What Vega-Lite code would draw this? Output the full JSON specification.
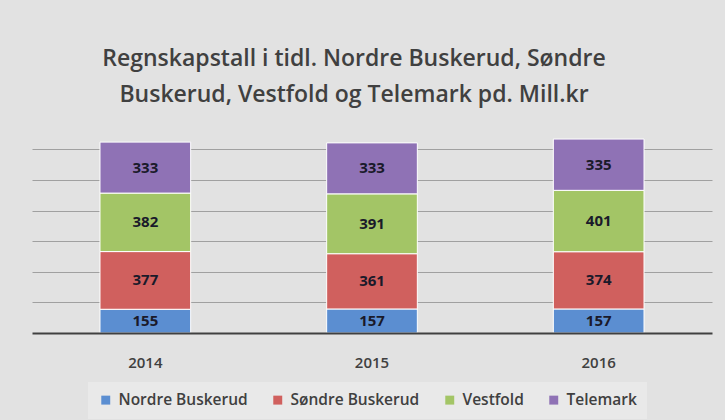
{
  "$schema": "https://vega.github.io/schema/vega-lite/v6.json",
  "width": 680,
  "height": 199,
  "autosize": {"type": "none"},
  "padding": {"left": 32, "top": 134, "right": 13, "bottom": 87},
  "background": "#e2e2e2",
  "config": {
    "view": {"stroke": null},
    "font": "Open Sans"
  },
  "title": {
    "text": ["Regnskapstall i tidl. Nordre Buskerud, Søndre", "Buskerud, Vestfold og Telemark pd. Mill.kr"],
    "fontSize": 23,
    "fontWeight": 600,
    "color": "#404040",
    "font": "Open Sans",
    "anchor": "middle",
    "dx": -18,
    "lineHeight": 36,
    "offset": 27
  },
  "data": {
    "values": [
      {"year": "2014", "series": "Nordre Buskerud", "order": 1, "value": 155},
      {"year": "2014", "series": "Søndre Buskerud", "order": 2, "value": 377},
      {"year": "2014", "series": "Vestfold", "order": 3, "value": 382},
      {"year": "2014", "series": "Telemark", "order": 4, "value": 333},
      {"year": "2015", "series": "Nordre Buskerud", "order": 1, "value": 157},
      {"year": "2015", "series": "Søndre Buskerud", "order": 2, "value": 361},
      {"year": "2015", "series": "Vestfold", "order": 3, "value": 391},
      {"year": "2015", "series": "Telemark", "order": 4, "value": 333},
      {"year": "2016", "series": "Nordre Buskerud", "order": 1, "value": 157},
      {"year": "2016", "series": "Søndre Buskerud", "order": 2, "value": 374},
      {"year": "2016", "series": "Vestfold", "order": 3, "value": 401},
      {"year": "2016", "series": "Telemark", "order": 4, "value": 335}
    ]
  },
  "encoding": {
    "x": {
      "field": "year",
      "type": "nominal",
      "scale": {"paddingInner": 0.6, "paddingOuter": 0.3},
      "axis": {
        "title": null,
        "labelAngle": 0,
        "labelFont": "Open Sans",
        "labelFontSize": 15,
        "labelFontWeight": 600,
        "labelColor": "#404040",
        "labelPadding": 22,
        "ticks": false,
        "domainColor": "#404040",
        "domainWidth": 2,
        "grid": false,
        "zindex": 1
      }
    },
    "y": {
      "field": "value",
      "type": "quantitative",
      "stack": "zero",
      "scale": {"domain": [0, 1300], "nice": false},
      "axis": {
        "title": null,
        "labels": false,
        "ticks": false,
        "domain": false,
        "values": [200, 400, 600, 800, 1000, 1200],
        "gridColor": "#a0a0a0",
        "gridWidth": 1
      }
    },
    "order": {"field": "order", "type": "quantitative"}
  },
  "layer": [
    {
      "mark": {"type": "bar", "stroke": "#ffffff", "strokeWidth": 1},
      "encoding": {
        "color": {
          "field": "series",
          "type": "nominal",
          "sort": ["Nordre Buskerud", "Søndre Buskerud", "Vestfold", "Telemark"],
          "scale": {
            "domain": ["Nordre Buskerud", "Søndre Buskerud", "Vestfold", "Telemark"],
            "range": ["#5b8ed1", "#d0605e", "#a3c566", "#8f72b5"]
          },
          "legend": {
            "title": null,
            "orient": "none",
            "direction": "horizontal",
            "legendX": 56,
            "legendY": 248,
            "fillColor": "#e9e9e9",
            "padding": 10,
            "symbolType": "square",
            "symbolSize": 80,
            "symbolStrokeWidth": 0,
            "labelFont": "Open Sans",
            "labelFontSize": 15.5,
            "labelFontWeight": 600,
            "labelColor": "#404040",
            "labelOffset": 5,
            "columnPadding": 22
          }
        }
      }
    },
    {
      "mark": {"type": "text", "font": "Open Sans", "fontSize": 15, "fontWeight": 700, "color": "#1a1a2a"},
      "encoding": {
        "y": {"field": "value", "type": "quantitative", "stack": "zero", "bandPosition": 0.5},
        "detail": {"field": "series"},
        "text": {"field": "value", "type": "quantitative"}
      }
    }
  ]
}
